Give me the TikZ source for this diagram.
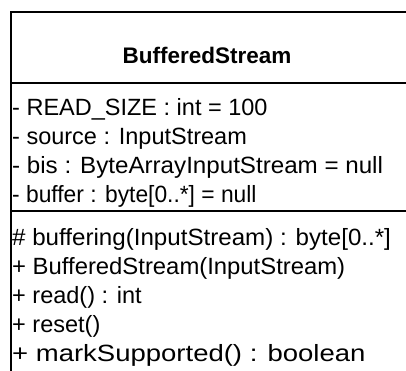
\documentclass[tikz,border=0pt]{standalone}
\usepackage{fontspec}
\usepackage{graphicx}
\setmainfont{Liberation Sans}
\newcommand{\sx}[2]{\scalebox{#1}[1]{#2}}
\begin{document}
\begin{tikzpicture}[x=1pt,y=-1pt,
  umlline/.style={line width=1.7pt,black},
  row/.style={anchor=base west,inner sep=0pt,font=\fontsize{23.5}{28}\selectfont},
  title/.style={anchor=base,inner sep=0pt,font=\fontsize{22.5}{28}\selectfont\bfseries}]
\useasboundingbox (0,0) rectangle (406,370);
\fill[white] (0,0) rectangle (406,370);
% class box (extends past the right and bottom edges)
\coordinate (tl) at (11,12);
\coordinate (tr) at (420,12);
\coordinate (bl) at (11,380);
\coordinate (hl) at (11,83);
\coordinate (hr) at (420,83);
\coordinate (ml) at (11,211);
\coordinate (mr) at (420,211);
\draw[umlline] (tr) -- (tl) -- (bl);
\draw[umlline] (hl) -- (hr);
\draw[umlline] (ml) -- (mr);
\node[title] (t) at (207,63) {BufferedStream};
\node[row] (a1) at (12,115.5) {- READ\_SIZE : int = 100};
\node[row] (a2) at (12,144.5) {- source : InputStream};
\node[row] (a3) at (12,173.5) {\sx{1.028}{- bis : ByteArrayInputStream = null}};
\node[row] (a4) at (12,202.5) {\sx{0.97}{- buffer : byte[0..*] = null}};
\node[row] (m1) at (12,245.5) {\sx{1.027}{\# buffering(InputStream) : byte[0..*]}};
\node[row] (m2) at (12,274.5) {\sx{1.015}{+ BufferedStream(InputStream)}};
\node[row] (m3) at (12,303.5) {+ read() : int};
\node[row] (m4) at (12,332.5) {+ reset()};
\node[row] (m5) at (12,361.5) {\sx{1.17}{+ markSupported() : boolean}};
\end{tikzpicture}
\end{document}
